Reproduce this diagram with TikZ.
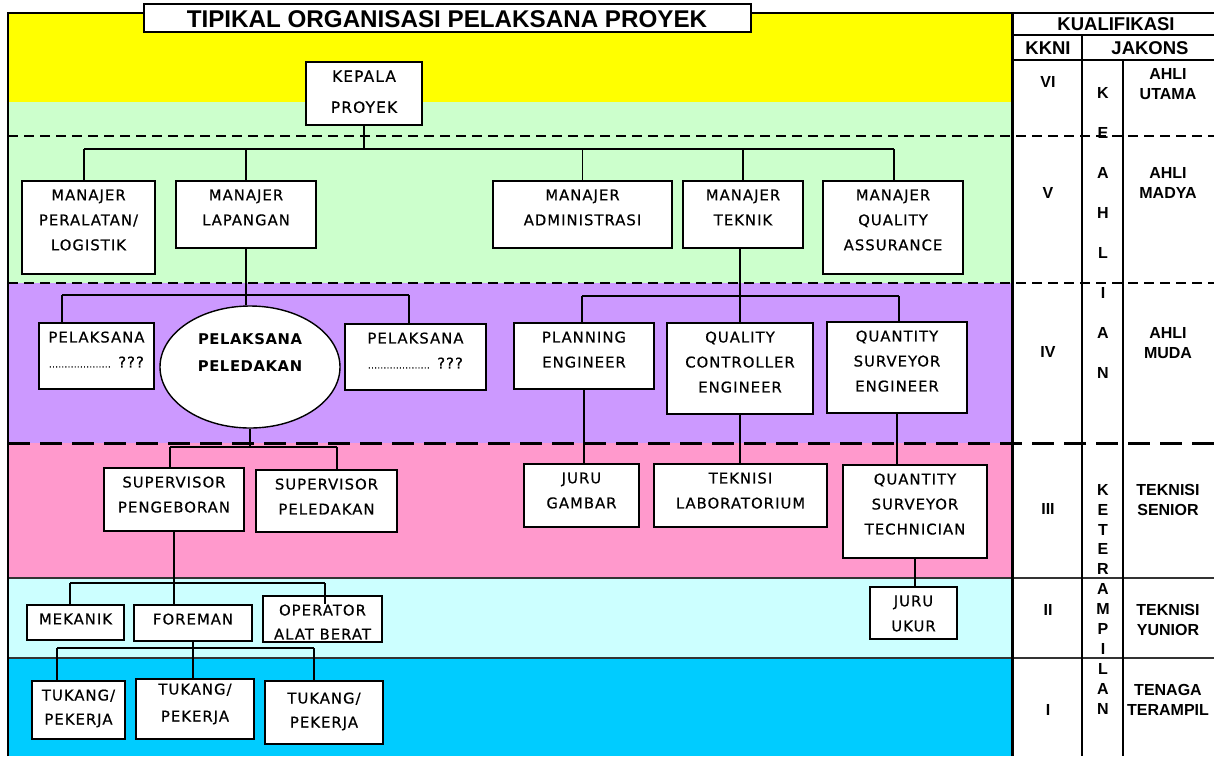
\documentclass[tikz,border=0pt]{standalone}
\usepackage{fontspec}
\setmainfont{DejaVu Sans}
\newfontfamily\comic[LetterSpace=7,FakeBold=0.5]{DejaVu Sans}
\newfontfamily\comicb[LetterSpace=4]{DejaVu Sans Bold}
\newfontfamily\arialb{Liberation Sans Bold}
\usetikzlibrary{shapes.geometric,fit}
\definecolor{cyel}{HTML}{FFFF00}
\definecolor{cgrn}{HTML}{CCFFCC}
\definecolor{cpur}{HTML}{CC99FF}
\definecolor{cpnk}{HTML}{FF99CC}
\definecolor{clcy}{HTML}{CCFFFF}
\definecolor{ccyn}{HTML}{00CCFF}
\pgfdeclarelayer{bg}\pgfdeclarelayer{wires}\pgfsetlayers{bg,wires,main}
\tikzset{
 orgbox/.style={draw, fill=white, line width=1.4pt, inner sep=0pt},
 orgtxt/.style={inner sep=0pt, align=center, font=\comic\fontsize{14.8}{25}\selectfont, anchor=north},
 tabtxt/.style={inner sep=0pt, align=center, font=\arialb\fontsize{16}{20}\selectfont},
 bigtab/.style={inner sep=0pt, align=center, font=\arialb\fontsize{18.5}{20}\selectfont},
 wire/.style={line width=1.4pt},
 thindash/.style={line width=1.5pt, dash pattern=on 10pt off 6pt},
 thickdash/.style={line width=3pt, dash pattern=on 22pt off 10pt},
 frame/.style={line width=2.5pt},
}
\newcommand\orgnode[7]{%
 \node[orgbox, fit={(#2,#3) (#4,#5)}] (#1) {};
 \node[orgtxt, #6] (#1t) at ([yshift=-9pt]#1.north) {#7};
}
\begin{document}
\begin{tikzpicture}[x=1pt,y=-1pt]
\useasboundingbox (0,0) rectangle (1214,756);
% bands
\begin{pgfonlayer}{bg}
\fill[cyel] (8,13) rectangle (1012,102);
\fill[cgrn] (8,102) rectangle (1012,283);
\fill[cpur] (8,283) rectangle (1012,443);
\fill[cpnk] (8,443) rectangle (1012,578);
\fill[clcy] (8,578) rectangle (1012,658);
\fill[ccyn] (8,658) rectangle (1012,756);
\draw[thindash] (8,136) -- (1214,136);
\draw[thindash] (8,283) -- (1214,283);
\draw[thickdash] (8,443) -- (1214,443);
\draw[line width=1.5pt, black!80] (8,578) -- (1214,578);
\draw[line width=1.5pt, black!80] (8,658) -- (1214,658);
\draw[frame] (8,756) -- (8,13) -- (1214,13);
\draw[line width=3pt] (1012,13) -- (1012,756);
\draw[frame] (1012,35) -- (1214,35);
\draw[frame] (1012,60) -- (1214,60);
\draw[frame] (1082,35) -- (1082,756);
\draw[frame] (1123,60) -- (1123,756);
\end{pgfonlayer}
% title
\node[orgbox, fit={(144,4) (751,32)}] (title) {};
\node[inner sep=0pt, font=\arialb\fontsize{24.2}{24.2}\selectfont] (titlet) at (447,19.5) {TIPIKAL ORGANISASI PELAKSANA PROYEK};
% table
\node[bigtab] (kual) at (1116,24) {KUALIFIKASI};
\node[bigtab] (kkni) at (1048,48) {KKNI};
\node[bigtab] (jakons) at (1150,48) {JAKONS};
\node[tabtxt] (k6) at (1048,82) {VI};
\node[tabtxt] (k5) at (1048,193) {V};
\node[tabtxt] (k4) at (1048,352) {IV};
\node[tabtxt] (k3) at (1048,509) {III};
\node[tabtxt] (k2) at (1048,610) {II};
\node[tabtxt] (k1) at (1048,710) {I};
\node[tabtxt, anchor=north, font=\arialb\fontsize{16}{40}\selectfont] (keahlian) at (1103,87) {K\\E\\A\\H\\L\\I\\A\\N};
\node[tabtxt, anchor=north, font=\arialb\fontsize{16}{19.9}\selectfont] (keterampilan) at (1103,484) {K\\E\\T\\E\\R\\A\\M\\P\\I\\L\\A\\N};
\node[tabtxt] (j6) at (1168,84) {AHLI\\UTAMA};
\node[tabtxt] (j5) at (1168,183) {AHLI\\MADYA};
\node[tabtxt] (j4) at (1168,343) {AHLI\\MUDA};
\node[tabtxt] (j3) at (1168,500) {TEKNISI\\SENIOR};
\node[tabtxt] (j2) at (1168,620) {TEKNISI\\YUNIOR};
\node[tabtxt] (j1) at (1168,700) {TENAGA\\TERAMPIL};
% org nodes
\orgnode{kp}{306}{62}{422}{125}{font=\comic\fontsize{15.5}{31}\selectfont}{KEPALA\\PROYEK}
\orgnode{mpl}{22}{181}{155}{274}{}{MANAJER\\PERALATAN/\\LOGISTIK}
\orgnode{mlp}{176}{181}{316}{248}{}{MANAJER\\LAPANGAN}
\orgnode{madm}{493}{181}{672}{248}{}{MANAJER\\ADMINISTRASI}
\orgnode{mtk}{683}{181}{803}{248}{}{MANAJER\\TEKNIK}
\orgnode{mqa}{823}{181}{963}{274}{}{MANAJER\\QUALITY\\ASSURANCE}
\orgnode{pl1}{39}{323}{154}{389}{}{PELAKSANA\\{\fontsize{8}{25}\selectfont ....................} ???}
\orgnode{pl2}{345}{324}{486}{390}{}{PELAKSANA\\{\fontsize{8}{25}\selectfont ....................} ???}
\orgnode{pe}{514}{323}{654}{389}{}{PLANNING\\ENGINEER}
\orgnode{qc}{667}{323}{813}{414}{}{QUALITY\\CONTROLLER\\ENGINEER}
\orgnode{qse}{827}{322}{967}{413}{}{QUANTITY\\SURVEYOR\\ENGINEER}
\orgnode{sp1}{104}{468}{244}{531}{}{SUPERVISOR\\PENGEBORAN}
\orgnode{sp2}{256}{470}{397}{532}{}{SUPERVISOR\\PELEDAKAN}
\orgnode{jg}{524}{464}{639}{527}{}{JURU\\GAMBAR}
\orgnode{tl}{654}{464}{827}{527}{}{TEKNISI\\LABORATORIUM}
\orgnode{qst}{843}{465}{987}{558}{}{QUANTITY\\SURVEYOR\\TECHNICIAN}
\orgnode{mk}{27}{605}{124}{640}{}{MEKANIK}
\orgnode{fm}{134}{605}{252}{641}{}{FOREMAN}
\orgnode{op}{263}{596}{382}{642}{font=\comic\fontsize{14.8}{24}\selectfont}{OPERATOR\\ALAT BERAT}
\orgnode{ju}{870}{587}{957}{639}{}{JURU\\UKUR}
\orgnode{t1}{32}{681}{125}{739}{font=\comic\fontsize{14.8}{24}\selectfont}{TUKANG/\\PEKERJA}
\orgnode{t2}{136}{679}{254}{739}{yshift=4pt, font=\comic\fontsize{14.8}{27}\selectfont}{TUKANG/\\PEKERJA}
\orgnode{t3}{265}{681}{383}{744}{yshift=-3pt, font=\comic\fontsize{14.8}{24}\selectfont}{TUKANG/\\PEKERJA}
\node[draw, ellipse, fill=white, line width=1.4pt, minimum width=180pt, minimum height=122pt, inner sep=0pt] (pp) at (250,367) {};
\node[orgtxt, font=\comicb\fontsize{14.8}{27}\selectfont] (ppt) at (250,333) {PELAKSANA\\PELEDAKAN};
% connectors
\begin{pgfonlayer}{wires}
\coordinate (b1w) at (84,149);
\coordinate (b1e) at (894,149);
\draw[wire] (kp.south) -- (kp.south |- b1w);
\draw[wire] (b1w) -- (b1e);
\draw[wire] (b1w) -- (b1w |- mpl.north);
\draw[wire] (mlp.north) -- (mlp.north |- b1w);
\draw[wire] (madm.north) -- (madm.north |- b1w);
\draw[wire] (mtk.north) -- (mtk.north |- b1w);
\draw[wire] (b1e) -- (b1e |- mqa.north);
\draw[wire] (mlp.south) -- (mlp.south |- pp.north);
\coordinate (b2w) at (62,295);
\coordinate (b2e) at (409,295);
\draw[wire] (b2w) -- (b2e);
\draw[wire] (b2w) -- (b2w |- pl1.north);
\draw[wire] (b2e) -- (b2e |- pl2.north);
\coordinate (b3w) at (170,447);
\coordinate (b3e) at (337,447);
\draw[wire] (pp.south) -- (pp.south |- b3w);
\draw[wire] (b3w) -- (b3e);
\draw[wire] (b3w) -- (b3w |- sp1.north);
\draw[wire] (b3e) -- (b3e |- sp2.north);
\coordinate (b4w) at (70,583);
\coordinate (b4e) at (325,583);
\draw[wire] (sp1.south) -- (sp1.south |- fm.north);
\draw[wire] (b4w) -- (b4e);
\draw[wire] (b4w) -- (b4w |- mk.north);
\coordinate (b5w) at (57,648);
\coordinate (b5e) at (314,648);
\draw[wire] (fm.south) -- (fm.south |- t2.north);
\draw[wire] (b5w) -- (b5e);
\draw[wire] (b5w) -- (b5w |- t1.north);
\draw[wire] (b5e) -- (b5e |- t3.north);
\coordinate (b6w) at (582,296);
\coordinate (b6e) at (899,296);
\draw[wire] (mtk.south -| qc.north) -- (qc.north);
\draw[wire] (b6w) -- (b6e);
\draw[wire] (b6w) -- (b6w |- pe.north);
\draw[wire] (b6e) -- (b6e |- qse.north);
\draw[wire] (pe.south) -- (pe.south |- jg.north);
\draw[wire] (qc.south) -- (qc.south |- tl.north);
\draw[wire] (qse.south) -- (qse.south |- qst.north);
\draw[wire] (qst.south) -- (qst.south |- ju.north);
\end{pgfonlayer}
\path (b4e |- op.north) ++(0,9) coordinate (opin);
\draw[wire] (b4e) -- (opin);
\end{tikzpicture}
\end{document}
